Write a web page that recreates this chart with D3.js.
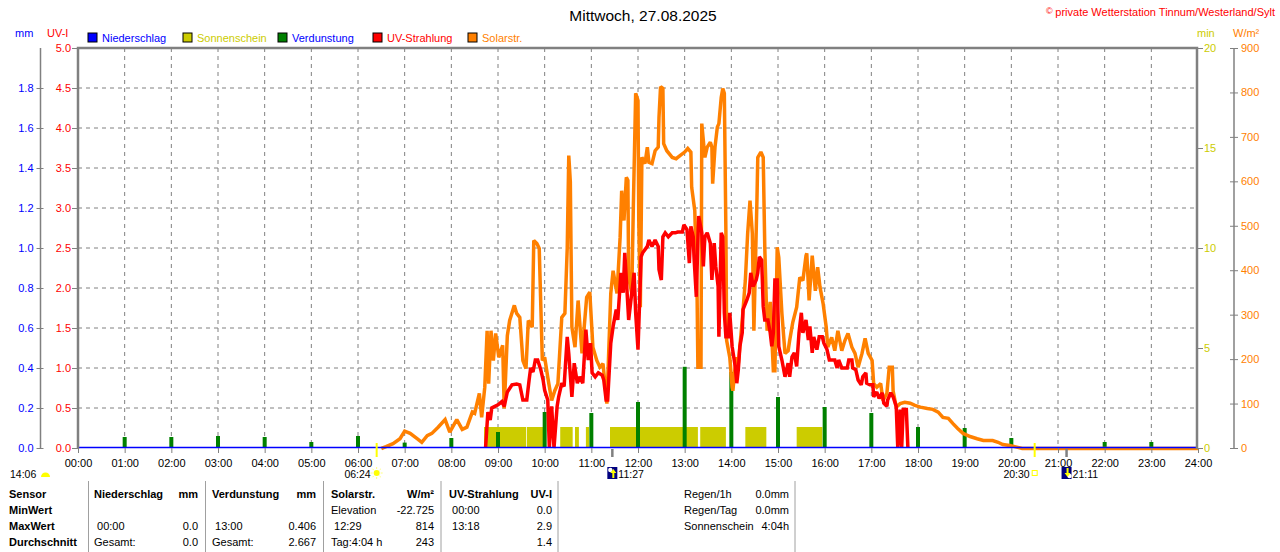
<!DOCTYPE html>
<html lang="de">
<head>
<meta charset="UTF-8">
<title>Mittwoch, 27.08.2025</title>
<style>
body { margin: 0; background: #fff; }
svg { display: block; font-family: "Liberation Sans", Arial, sans-serif; font-size: 11px; }
.grid line { stroke: #808080; stroke-width: 1; stroke-dasharray: 4,4; }
.tbl text { white-space: pre; }
.tbl .b { font-weight: bold; }
.sep { stroke: #a0a0a0; stroke-width: 1; }
</style>
</head>
<body>
<svg width="1280" height="552"></svg>
<script src="https://d3js.org/d3.v7.min.js"></script>
<script>
// --- Achsen / Ticks
var xTickLabels = ["00:00","01:00","02:00","03:00","04:00","05:00","06:00","07:00","08:00","09:00","10:00","11:00","12:00",
    "13:00","14:00","15:00","16:00","17:00","18:00","19:00","20:00","21:00","22:00","23:00","24:00"];
var uvTicks = [0, 0.5, 1, 1.5, 2, 2.5, 3, 3.5, 4, 4.5, 5];
var mmTicks = [0, 0.2, 0.4, 0.6, 0.8, 1.0, 1.2, 1.4, 1.6, 1.8];
var minTicks = [0, 5, 10, 15, 20];
var wTicks = [0, 100, 200, 300, 400, 500, 600, 700, 800, 900];

// --- Legende
var legendNames = ["Niederschlag", "Sonnenschein", "Verdunstung", "UV-Strahlung", "Solarstr."];
var legendFill = ["#0000ff", "#cccc00", "#008000", "#ff0000", "#ff8000"];
var legendText = ["#0000ff", "#cccc00", "#0000ff", "#ff0000", "#ff8000"];

// --- Niederschlag (mm)
var rainTimes = ["00:00", "24:00"];
var rainValues = [0, 0];

// --- Sonnenschein (min)
var sunStart = ["08:42","09:37","10:20","10:39","10:53","11:24","13:20","14:18","15:24"];
var sunEnd   = ["09:36","10:00","10:36","10:44","10:57","13:17","13:53","14:45","15:57"];
var sunMinutes = [1.05, 1.05, 1.05, 1.05, 1.05, 1.05, 1.05, 1.05, 1.05];

// --- Verdunstung (mm)
var evapTimes = ["01:00","02:00","03:00","04:00","05:00","06:00","07:00","08:00","09:00","10:00","11:00","12:00",
    "13:00","14:00","15:00","16:00","17:00","18:00","19:00","20:00","21:00","22:00","23:00"];
var evapValues = [0.055,0.055,0.06,0.055,0.03,0.06,0.027,0.05,0.08,0.18,0.175,0.23,
    0.406,0.38,0.255,0.205,0.175,0.105,0.10,0.05,0,0.03,0.03];

// --- Solarstrahlung (W/m²)
var solarTimes = ["06:30","06:36","06:45","06:54","07:00","07:07","07:16","07:22","07:29","07:35","07:43","07:52","07:58",
    "08:07","08:14","08:20","08:27","08:30","08:36","08:39","08:43","08:46","08:48","08:51","08:54","08:57",
    "09:01","09:06","09:08","09:12","09:15","09:21","09:24","09:28","09:32","09:36","09:39","09:44","09:46","09:50","09:53","09:57",
    "10:00","10:04","10:09","10:13","10:17","10:22","10:26","10:29","10:31","10:33","10:35","10:39","10:43","10:48","10:54","10:58",
    "11:02","11:07","11:11","11:15","11:18","11:20","11:25","11:28","11:33","11:37","11:39","11:42","11:45","11:47","11:48","11:52","11:54","11:57",
    "12:00","12:01","12:03","12:05","12:09","12:12","12:14","12:18","12:22","12:26","12:27","12:29","12:32","12:33","12:37","12:44","12:49","12:54",
    "13:00","13:04","13:08","13:09","13:13","13:16","13:17","13:21","13:22","13:26","13:29","13:33","13:35","13:36","13:39","13:42","13:44","13:47","13:49","13:51","13:53","13:54","13:58",
    "14:01","14:02","14:06","14:09","14:14","14:18","14:21","14:24","14:27","14:29","14:33","14:34","14:38","14:41","14:43","14:46","14:50","14:54","14:56","14:59",
    "15:01","15:05","15:09","15:13","15:15","15:19","15:24","15:28","15:32","15:36","15:37","15:40","15:44","15:48","15:51","15:54","15:58",
    "16:02","16:04","16:09","16:13","16:17","16:22","16:26","16:30","16:35","16:39","16:43","16:48","16:52","16:56",
    "17:01","17:03","17:07","17:12","17:15","17:20","17:23","17:27","17:28","17:32","17:37","17:43","17:50","17:56",
    "18:03","18:12","18:19","18:26","18:32","18:39","18:45","18:51","18:58",
    "19:07","19:16","19:24","19:36","19:43","19:49","19:58","20:07","20:14","24:00"];
var solarValues = [0,4,11,22,39,34,22,14,29,34,48,65,37,
    65,43,48,82,79,124,70,138,265,146,265,198,259,
    205,232,90,254,288,322,304,295,198,180,288,273,468,461,450,198,
    205,160,108,130,146,295,304,450,659,600,273,228,333,214,340,352,
    228,198,183,191,138,101,349,400,349,475,580,513,610,603,385,349,543,799,
    783,513,318,655,641,678,644,641,670,678,745,814,810,686,670,655,652,659,
    667,675,667,588,535,340,183,183,731,655,678,689,678,596,678,723,731,790,810,799,490,243,205,
    138,130,205,191,288,378,484,558,484,265,565,655,667,655,453,265,330,175,175,453,
    430,304,214,220,243,284,318,385,378,434,439,333,434,355,408,363,326,
    273,228,250,220,265,220,243,259,228,214,183,214,248,214,
    198,146,138,146,108,124,183,183,130,93,101,104,102,97,
    93,90,88,82,70,68,56,45,34,
    27,22,18,18,14,9,7,3,0,0];

// --- UV-Strahlung (UV-I)
var uvTimes = ["08:44","08:47","08:50","08:52","08:56","09:00","09:05","09:08","09:12","09:18","09:24","09:28","09:32","09:37",
    "09:40","09:42","09:45","09:48","09:51","09:55","09:58","10:00","10:04","10:06","10:09","10:12","10:16","10:18","10:22","10:25",
    "10:29","10:31","10:35","10:38","10:42","10:45","10:49","10:53","10:56","10:59","11:01","11:05","11:09","11:14","11:16","11:19",
    "11:21","11:25","11:28","11:32","11:34","11:38","11:41","11:43","11:46","11:48","11:52","11:55","11:57","12:00","12:04","12:06",
    "12:12","12:14","12:18","12:22","12:26","12:27","12:30","12:32","12:35","12:39","12:44","12:48","12:51","12:57","12:59","13:03",
    "13:06","13:08","13:11","13:12","13:15","13:17","13:18","13:22","13:24","13:26","13:29","13:33","13:35","13:38","13:40","13:43",
    "13:44","13:47","13:49","13:51","13:53","13:56","13:58","14:01","14:05","14:07","14:09","14:11","14:14","14:15","14:20","14:23",
    "14:25","14:28","14:32","14:34","14:36","14:39","14:41","14:43","14:47","14:50","14:52","14:54","14:56","14:59","15:01","15:05",
    "15:09","15:13","15:15","15:18","15:21","15:24","15:27","15:30","15:32","15:36","15:39","15:41","15:44","15:46","15:50","15:53",
    "15:57","15:59","16:03","16:06","16:13","16:16","16:18","16:22","16:29","16:31","16:35","16:36","16:40","16:43","16:47","16:49",
    "16:53","16:54","16:58","17:02","17:03","17:07","17:10","17:14","17:16","17:20","17:21","17:25","17:28","17:32","17:34","17:37",
    "17:39","17:41","17:45","17:47"];
var uvValues = [0,0.45,0.35,0.5,0.52,0.54,0.58,0.52,0.70,0.79,0.80,0.79,0.6,0.6,
    0.85,1.0,0.95,1.1,1.1,0.98,0.85,0.72,0.6,0,0.52,0,0.52,0.64,0.81,0.77,
    1.39,1.18,0.64,1.06,0.81,0.89,0.81,1.48,1.1,1.31,0.94,0.89,0.94,0.91,0.85,0.6,
    0.6,1.31,1.52,1.73,1.6,2.19,1.94,2.44,1.94,1.6,1.94,2.19,1.69,1.23,2.39,2.44,
    2.52,2.6,2.52,2.6,2.52,2.23,2.1,2.64,2.69,2.64,2.69,2.69,2.7,2.7,2.79,2.73,
    2.31,2.77,2.64,2.39,1.89,2.6,2.9,2.69,2.27,2.64,2.69,2.56,2.1,2.56,2.27,2.02,
    1.39,2.69,2.64,1.69,1.39,1.39,1.69,1.27,1.02,0.81,0.98,1.27,1.44,1.73,1.85,1.94,
    2.19,2.02,2.1,2.19,2.39,2.35,1.77,1.6,1.6,1.44,1.27,1.44,2.1,2.1,1.27,1.1,
    0.89,1.06,0.89,1.14,1.19,1.02,1.44,1.69,1.44,1.6,1.35,1.52,1.19,1.39,1.23,1.39,
    1.39,1.31,1.23,1.1,1.1,1.0,1.1,1.0,1.0,1.1,1.1,1.0,0.98,0.85,0.79,0.89,
    0.94,0.81,0.79,0.79,0.64,0.70,0.62,0.69,0.56,0.52,0.6,0.69,0.64,0.52,0,0.48,
    0,0.48,0.48,0];

// --- Sonnenereignisse
var dayLength = "14:06";
var sunrise = "06:24";
var noon = "11:27";
var sunset = "20:30";
var moonrise = "21:11";

// --- Tabelle
var tableHead = ["Sensor", "Niederschlag", "mm", "Verdunstung", "mm", "Solarstr.", "W/m\u00b2", "UV-Strahlung", "UV-I"];
var rowLabels = ["MinWert", "MaxWert", "Durchschnitt"];
var rainCells = [["", ""], [" 00:00", "0.0"], ["Gesamt:", "0.0"]];
var evapCells = [["", ""], [" 13:00", "0.406"], ["Gesamt:", "2.667"]];
var solarCells = [["Elevation", "-22.725"], [" 12:29", "814"], ["Tag:4:04 h", "243"]];
var uvCells = [[" 00:00", "0.0"], [" 13:18", "2.9"], ["", "1.4"]];
var sumLabels = ["Regen/1h", "Regen/Tag", "Sonnenschein"];
var sumValues = ["0.0mm", "0.0mm", "4:04h"];

function hrs(s) {
    var p = s.split(":");
    return +p[0] + (+p[1]) / 60;
}

var svg = d3.select("svg");
var gray = "#808080";

var x = d3.scaleLinear().domain([0, 24]).range([78, 1198]);
var yUV = d3.scaleLinear().domain([0, 5]).range([448, 48]);
var yMM = d3.scaleLinear().domain([0, 2]).range([448, 48]);
var yMin = d3.scaleLinear().domain([0, 20]).range([448, 48]);
var yW = d3.scaleLinear().domain([0, 900]).range([448, 48]);

// Titel
svg.append("text").attr("x", 643).attr("y", 21).attr("text-anchor", "middle")
    .style("font-size", "15.5px").text("Mittwoch, 27.08.2025");
svg.append("text").attr("x", 1046).attr("y", 14).attr("fill", "#ff0000")
    .style("font-size", "9px").text("\u00a9");
svg.append("text").attr("x", 1275).attr("y", 16).attr("text-anchor", "end").attr("fill", "#ff0000")
    .text("private Wetterstation Tinnum/Westerland/Sylt");

// Einheiten
svg.append("text").attr("x", 15).attr("y", 37).attr("fill", "#0000ff").text("mm");
svg.append("text").attr("x", 47).attr("y", 37).attr("fill", "#ff0000").text("UV-I");
svg.append("text").attr("x", 1197).attr("y", 37).attr("fill", "#cccc00").text("min");
svg.append("text").attr("x", 1233).attr("y", 37).attr("fill", "#ff8000").text("W/m\u00b2");

// Legende
var leg = svg.append("g").selectAll("g").data(legendNames).enter().append("g")
    .attr("transform", function(d, i) { return "translate(" + (88 + i * 95) + ",33)"; });
leg.append("rect").attr("width", 9).attr("height", 9)
    .attr("fill", function(d, i) { return legendFill[i]; })
    .attr("stroke", "#000").attr("stroke-width", 1);
leg.append("text").attr("x", 14).attr("y", 9)
    .attr("fill", function(d, i) { return legendText[i]; })
    .text(function(d) { return d; });

// Gitter
var grid = svg.append("g").attr("class", "grid");
grid.selectAll(".v").data(xTickLabels.slice(1, -1)).enter().append("line")
    .attr("x1", function(d) { return x(hrs(d)); })
    .attr("x2", function(d) { return x(hrs(d)); })
    .attr("y1", 48).attr("y2", 448);
grid.selectAll(".h").data(uvTicks.slice(1, -1)).enter().append("line")
    .attr("x1", 78).attr("x2", 1198)
    .attr("y1", function(d) { return yUV(d); })
    .attr("y2", function(d) { return yUV(d); });

// Sonnenschein
svg.append("g").selectAll("rect").data(sunStart).enter().append("rect")
    .attr("x", function(d) { return x(hrs(d)); })
    .attr("width", function(d, i) { return x(hrs(sunEnd[i])) - x(hrs(d)); })
    .attr("y", function(d, i) { return yMin(sunMinutes[i]); })
    .attr("height", function(d, i) { return yMin(0) - yMin(sunMinutes[i]); })
    .attr("fill", "#cccc00");

// Verdunstung
svg.append("g").selectAll("rect").data(evapTimes).enter().append("rect")
    .attr("x", function(d) { return x(hrs(d)) - 2; })
    .attr("width", 4)
    .attr("y", function(d, i) { return yMM(evapValues[i]); })
    .attr("height", function(d, i) { return yMM(0) - yMM(evapValues[i]); })
    .attr("fill", "#008000");

// Linien
function drawLine(times, values, yScale, color, width, dy) {
    var line = d3.line()
        .x(function(d) { return x(hrs(d[0])); })
        .y(function(d) { return yScale(d[1]) + (dy || 0); });
    svg.append("path").datum(d3.zip(times, values))
        .attr("d", line)
        .attr("fill", "none")
        .attr("stroke", color)
        .attr("stroke-width", width)
        .attr("stroke-linejoin", "miter")
        .attr("stroke-miterlimit", 2);
}
drawLine(solarTimes, solarValues, yW, "#ff8000", 3.5, 0.5);
drawLine(uvTimes, uvValues, yUV, "#ff0000", 3.5);
drawLine(rainTimes, rainValues, yMM, "#0000ff", 1.5, -0.5);

// Rahmen
svg.append("path").attr("d", "M78,449V48H1197V449")
    .attr("fill", "none").attr("stroke", gray).attr("stroke-width", 2.5);

function styleAxis(g, color) {
    g.attr("font-size", 11).attr("font-family", null);
    g.select(".domain").remove();
    g.selectAll("line").attr("stroke", gray);
    g.selectAll("text").attr("fill", color);
}

// x-Achse
var xAxis = svg.append("g").attr("transform", "translate(0,448)")
    .call(d3.axisBottom(x)
        .tickValues(xTickLabels.map(hrs))
        .tickFormat(function(d, i) { return xTickLabels[i]; })
        .tickSize(5).tickPadding(6));
styleAxis(xAxis, "#000");

// UV-Achse
var uvAxis = svg.append("g").attr("transform", "translate(77,0)")
    .call(d3.axisLeft(yUV).tickValues(uvTicks).tickFormat(d3.format(".1f")).tickSize(5).tickPadding(1));
styleAxis(uvAxis, "#ff0000");

// mm-Achse
svg.append("line").attr("x1", 40.5).attr("x2", 40.5).attr("y1", 48).attr("y2", 448)
    .attr("stroke", gray).attr("stroke-width", 1.5);
var mmAxis = svg.append("g").attr("transform", "translate(40.5,0)")
    .call(d3.axisLeft(yMM).tickValues(mmTicks).tickFormat(d3.format(".1f")).tickSize(4).tickPadding(3));
styleAxis(mmAxis, "#0000ff");
mmAxis.selectAll("line").attr("x1", 3);

// min-Achse
var minAxis = svg.append("g").attr("transform", "translate(1198,0)")
    .call(d3.axisRight(yMin).tickValues(minTicks).tickSize(5).tickPadding(1));
styleAxis(minAxis, "#cccc00");

// W/m²-Achse
svg.append("line").attr("x1", 1234).attr("x2", 1234).attr("y1", 48).attr("y2", 448)
    .attr("stroke", gray).attr("stroke-width", 1.5);
var wAxis = svg.append("g").attr("transform", "translate(1234,0)")
    .call(d3.axisRight(yW).tickValues(wTicks).tickSize(4).tickPadding(3));
styleAxis(wAxis, "#ff8000");
wAxis.selectAll("line").attr("x1", -4);

// Sonnen-/Mondmarken an der x-Achse
[sunrise, sunset].forEach(function(t) {
    svg.append("line").attr("x1", x(hrs(t))).attr("x2", x(hrs(t)))
        .attr("y1", 443).attr("y2", 457).attr("stroke", "#ffff00").attr("stroke-width", 2);
});
[noon, moonrise].forEach(function(t) {
    svg.append("line").attr("x1", x(hrs(t))).attr("x2", x(hrs(t)))
        .attr("y1", 449).attr("y2", 457).attr("stroke", gray).attr("stroke-width", 2.5);
});

var ev = svg.append("g").style("font-size", "10.5px");
var evY = 478;
// Tageslänge
ev.append("text").attr("x", 10).attr("y", evY).text(dayLength);
ev.append("path").attr("d", "M41,477A4.5,4.5 0 0 1 50,477Z").attr("fill", "#ffff00");
// Sonnenaufgang
ev.append("text").attr("x", x(hrs(sunrise)) - 6).attr("y", evY).attr("text-anchor", "end").text(sunrise);
var sx = x(hrs(sunrise)), sy = 473;
ev.append("circle").attr("cx", sx).attr("cy", sy).attr("r", 3).attr("fill", "#ffff00");
d3.range(8).forEach(function(k) {
    var a = k * Math.PI / 4;
    ev.append("line")
        .attr("x1", sx + Math.cos(a) * 4).attr("y1", sy + Math.sin(a) * 4)
        .attr("x2", sx + Math.cos(a) * 6).attr("y2", sy + Math.sin(a) * 6)
        .attr("stroke", "#ffff80").attr("stroke-width", 1);
});
// Höchststand / Mondaufgang
function moonIcon(px, up) {
    ev.append("rect").attr("x", px).attr("y", 467).attr("width", 10).attr("height", 12).attr("fill", "#000080");
    ev.append("circle").attr("cx", up ? px + 3 : px + 8).attr("cy", up ? 470 : 476).attr("r", 2.2).attr("fill", "#ffffff");
    var ax = px + 6;
    ev.append("path")
        .attr("d", up ? "M" + ax + ",469L" + (ax - 3) + ",473H" + (ax - 1) + "V478H" + (ax + 1) + "V473H" + (ax + 3) + "Z"
                      : "M" + (ax - 1) + ",468H" + (ax + 1) + "V473H" + (ax + 3) + "L" + ax + ",477L" + (ax - 3) + ",473H" + (ax - 1) + "Z")
        .attr("fill", "#ffff00");
}
moonIcon(x(hrs(noon)) - 5, true);
ev.append("text").attr("x", x(hrs(noon)) + 6).attr("y", evY).text(noon);
// Sonnenuntergang
ev.append("text").attr("x", x(hrs(sunset)) - 5).attr("y", evY).attr("text-anchor", "end").text(sunset);
ev.append("rect").attr("x", x(hrs(sunset)) - 2.5).attr("y", 470.5).attr("width", 5).attr("height", 5)
    .attr("fill", "none").attr("stroke", "#ffff00").attr("stroke-width", 1);
moonIcon(x(hrs(moonrise)) - 5, false);
ev.append("text").attr("x", x(hrs(moonrise)) + 6).attr("y", evY).text(moonrise);

// Tabelle
var tbl = svg.append("g").attr("class", "tbl");
[88.5, 205.5, 323.5, 441, 558, 795].forEach(function(sx) {
    tbl.append("line").attr("class", "sep").attr("x1", sx).attr("x2", sx).attr("y1", 481).attr("y2", 552);
});
var rowY = [498, 514, 530, 546];
var cols = [{l: 94, r: 198, cells: rainCells}, {l: 212, r: 316, cells: evapCells},
            {l: 331, r: 434, cells: solarCells}, {l: 449, r: 552, cells: uvCells}];

tbl.append("text").attr("class", "b").attr("x", 9).attr("y", rowY[0]).text(tableHead[0]);
cols.forEach(function(c, k) {
    tbl.append("text").attr("class", "b").attr("x", c.l).attr("y", rowY[0]).text(tableHead[1 + k * 2]);
    tbl.append("text").attr("class", "b").attr("x", c.r).attr("y", rowY[0]).attr("text-anchor", "end").text(tableHead[2 + k * 2]);
});
rowLabels.forEach(function(r, i) {
    tbl.append("text").attr("class", "b").attr("x", 9).attr("y", rowY[i + 1]).text(r);
    cols.forEach(function(c) {
        tbl.append("text").attr("x", c.l).attr("y", rowY[i + 1]).text(c.cells[i][0]);
        tbl.append("text").attr("x", c.r).attr("y", rowY[i + 1]).attr("text-anchor", "end").text(c.cells[i][1]);
    });
});
sumLabels.forEach(function(s, i) {
    tbl.append("text").attr("x", 684).attr("y", rowY[i]).text(s);
    tbl.append("text").attr("x", 789).attr("y", rowY[i]).attr("text-anchor", "end").text(sumValues[i]);
});
</script>
</body>
</html>
